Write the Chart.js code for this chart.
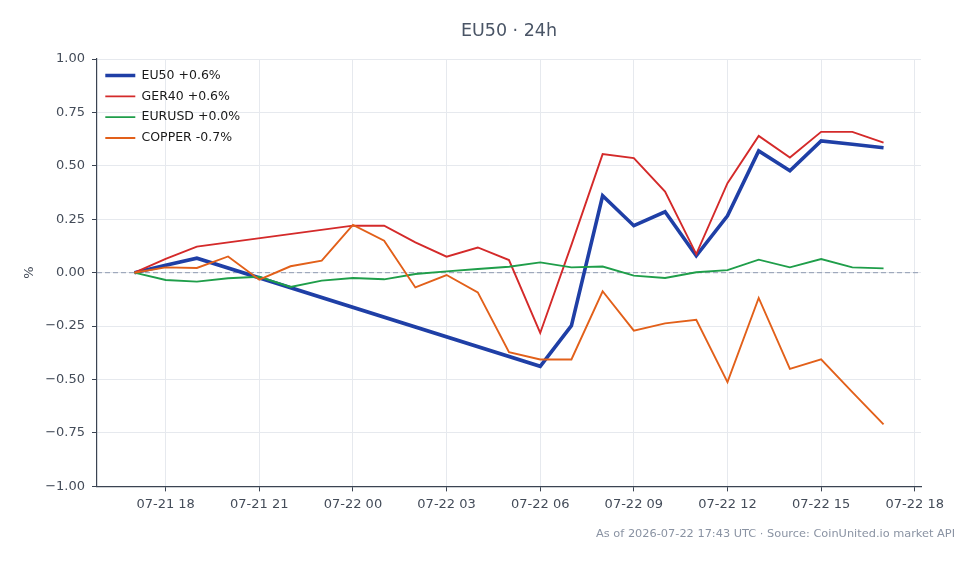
<!DOCTYPE html>
<html lang="en">
<head>
    <meta charset="UTF-8">
    <title>EU50 24h</title>
    <style>
        body { margin: 0; background: #fff; }
        #wrap { width: 978px; height: 564px; }
    </style>
</head>
<body>
    <div id="wrap">
        <canvas id="grafica"></canvas>
    </div>
<script src="https://cdn.jsdelivr.net/npm/chart.js"></script>
<script>
    // hours since 07-21 00:00 (17 = 07-21 17:00 ... 41 = 07-22 17:00)
    const hours = [17, 18, 19, 20, 21, 22, 23, 24, 25, 26, 27, 28, 29, 30, 31, 32, 33, 34, 35, 36, 37, 38, 39, 40, 41];

    const eu50 = [0, 0.035, 0.068, null, null, null, null, null, null, null, null, null, null,
        -0.438, -0.248, 0.36, 0.22, 0.285, 0.079, 0.266, 0.57, 0.477, 0.617, 0.601, 0.585];
    const ger40 = [0, 0.065, 0.122, null, null, null, null, 0.22, 0.22, 0.142, 0.075, 0.118, 0.059,
        -0.282, 0.13, 0.555, 0.536, 0.38, 0.087, 0.419, 0.64, 0.539, 0.659, 0.659, 0.609];
    const eurusd = [0, -0.034, -0.042, -0.026, -0.019, -0.067, -0.037, -0.025, -0.031, -0.006, 0.006, 0.017, 0.028,
        0.048, 0.025, 0.029, -0.014, -0.025, 0.002, 0.012, 0.061, 0.025, 0.064, 0.025, 0.02];
    const copper = [0, 0.025, 0.022, 0.076, -0.033, 0.03, 0.056, 0.224, 0.15, -0.069, -0.011, -0.092, -0.372,
        -0.406, -0.406, -0.087, -0.271, -0.237, -0.22, -0.512, -0.118, -0.45, -0.406, -0.559, -0.71];

    const seriesNames = ['EU50 +0.6%', 'GER40 +0.6%', 'EURUSD +0.0%', 'COPPER -0.7%'];

    const xTickHours = [18, 21, 24, 27, 30, 33, 36, 39, 42];
    const xTickLabels = ['07-21 18', '07-21 21', '07-22 00', '07-22 03', '07-22 06', '07-22 09', '07-22 12', '07-22 15', '07-22 18'];
    const yTickValues = [-1, -0.75, -0.5, -0.25, 0, 0.25, 0.5, 0.75, 1];

    const FONT = "'DejaVu Sans', sans-serif";
    const gridCol = '#e6e9ee';
    const axisCol = '#3b4452';

    function pts(vals) {
        return hours.map((h, i) => ({ x: h, y: vals[i] }));
    }

    function serie(label, vals, color, width, order) {
        return {
            label: label,
            data: pts(vals),
            borderColor: color,
            backgroundColor: color,
            borderWidth: width,
            pointRadius: 0,
            pointHoverRadius: 0,
            tension: 0,
            spanGaps: true,
            yAxisID: 'y',
            order: order
        };
    }

    // dashed zero reference line
    const lineaCero = {
        id: 'lineaCero',
        beforeDatasetsDraw(chart) {
            const y = chart.scales.y.getPixelForValue(0);
            const a = chart.chartArea;
            const ctx = chart.ctx;
            ctx.save();
            ctx.strokeStyle = '#8e9ab0';
            ctx.lineWidth = 1;
            ctx.setLineDash([5, 3]);
            ctx.beginPath();
            ctx.moveTo(a.left, y);
            ctx.lineTo(a.right, y);
            ctx.stroke();
            ctx.restore();
        }
    };

    // legend 'chartArea' keeps top = 0, move it to the top of the plot
    const leyendaDentro = {
        id: 'leyendaDentro',
        afterLayout(chart) {
            const lg = chart.legend;
            const h = lg.bottom - lg.top;
            lg.top = chart.chartArea.top + 2;
            lg.bottom = lg.top + h;
        }
    };

    const ctx = document.getElementById('grafica').getContext('2d');
    const myChart = new Chart(ctx, {
        type: 'line',
        data: {
            datasets: [
                serie(seriesNames[0], eu50, '#1f3fa6', 3.6, 3),
                serie(seriesNames[1], ger40, '#d42a2a', 1.9, 2),
                serie(seriesNames[2], eurusd, '#1f9e4a', 1.9, 1),
                serie(seriesNames[3], copper, '#e2601a', 1.9, 0)
            ]
        },
        plugins: [lineaCero, leyendaDentro],
        options: {
            responsive: true,
            maintainAspectRatio: false,
            animation: false,
            layout: { padding: { left: 0, right: 23, top: 0, bottom: 23 } },
            scales: {
                x: {
                    type: 'linear',
                    min: 15.8,
                    max: 42.2,
                    afterBuildTicks: (s) => { s.ticks = xTickHours.map(v => ({ value: v })); },
                    afterFit: (s) => { s.height = 30; },
                    ticks: {
                        color: '#444c59',
                        font: { family: FONT, size: 13 },
                        padding: 5,
                        maxRotation: 0,
                        autoSkip: false,
                        callback: (v) => xTickLabels[xTickHours.indexOf(v)]
                    },
                    grid: { color: gridCol, tickColor: axisCol, tickLength: 5, tickWidth: 1 },
                    border: { color: axisCol, width: 1.2 }
                },
                y: {
                    min: -1,
                    max: 1,
                    afterBuildTicks: (s) => { s.ticks = yTickValues.map(v => ({ value: v })); },
                    afterFit: (s) => { s.width = 97; },
                    ticks: {
                        color: '#444c59',
                        font: { family: FONT, size: 13 },
                        padding: 7,
                        callback: (v) => (v < 0 ? '\u2212' : '') + Math.abs(v).toFixed(2)
                    },
                    title: {
                        display: true,
                        text: '%',
                        color: '#444c59',
                        font: { family: FONT, size: 13 },
                        padding: { top: 22, bottom: 0 }
                    },
                    grid: { color: gridCol, tickColor: axisCol, tickLength: 5, tickWidth: 1 },
                    border: { color: axisCol, width: 1.2 }
                },
                // empty right margin so the plot ends where the reference does
                margen: {
                    position: 'right',
                    min: 0,
                    max: 1,
                    afterFit: (s) => { s.width = 34; },
                    ticks: { display: false },
                    grid: { display: false, drawTicks: false },
                    border: { display: false }
                }
            },
            plugins: {
                title: {
                    display: true,
                    text: 'EU50 \u00b7 24h',
                    color: '#4a5566',
                    fullSize: false,
                    font: { family: FONT, size: 17.5, weight: 'normal' },
                    padding: { top: 21, bottom: 17 }
                },
                subtitle: {
                    display: true,
                    position: 'bottom',
                    align: 'end',
                    text: 'As of 2026-07-22 17:43 UTC \u00b7 Source: CoinUnited.io market API',
                    color: '#8a93a3',
                    font: { family: FONT, size: 11.35 },
                    padding: { top: 11, bottom: 0 }
                },
                legend: {
                    position: 'chartArea',
                    align: 'start',
                    labels: {
                        usePointStyle: true,
                        pointStyle: 'line',
                        pointStyleWidth: 30,
                        color: '#1a1a1a',
                        font: { family: FONT, size: 12.5 },
                        padding: 8.3,
                        sort: (a, b) => a.datasetIndex - b.datasetIndex
                    }
                },
                tooltip: { enabled: false }
            }
        }
    });
</script>
</body>
</html>
